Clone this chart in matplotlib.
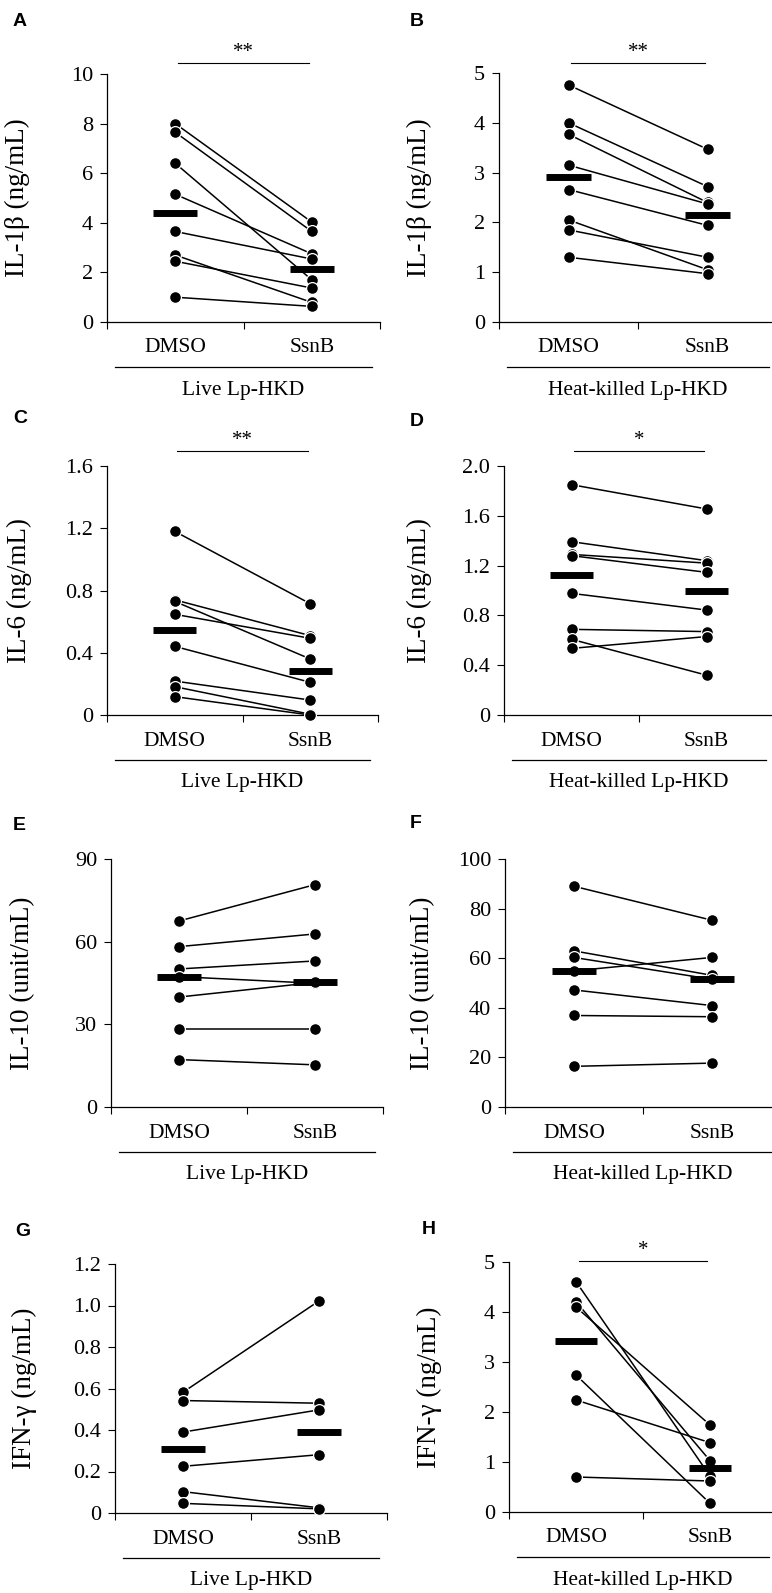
import numpy as np
import matplotlib
matplotlib.use("Agg")
import matplotlib.pyplot as plt

plt.rcParams['font.family'] = ['Liberation Serif', 'DejaVu Serif']

groups = ["DMSO", "SsnB"]

# values, paired by donor
a_dmso = [8.0, 7.65, 6.4, 5.15, 3.65, 2.7, 2.45, 1.0]
a_ssnb = [4.03, 3.65, 1.70, 2.75, 2.54, 0.79, 1.37, 0.63]
b_dmso = [4.76, 4.0, 3.77, 3.15, 2.66, 2.05, 1.85, 1.30]
b_ssnb = [3.47, 2.72, 2.40, 2.37, 1.94, 1.05, 1.30, 0.97]
c_dmso = [1.18, 0.74, 0.73, 0.647, 0.441, 0.218, 0.182, 0.118]
c_ssnb = [0.715, 0.51, 0.36, 0.493, 0.21, 0.096, 0.005, 0.0]
d_dmso = [1.85, 1.392, 1.29, 1.28, 0.977, 0.688, 0.608, 0.535]
d_ssnb = [1.655, 1.24, 1.22, 1.146, 0.843, 0.67, 0.32, 0.63]
e_dmso = [67.5, 58.2, 50.1, 47.3, 39.9, 28.2, 17.2]
e_ssnb = [80.7, 62.8, 53.0, 44.9, 45.2, 28.2, 15.3]
f_dmso = [89.0, 62.95, 60.3, 54.9, 47.2, 36.9, 16.4]
f_ssnb = [75.3, 53.1, 51.5, 60.3, 40.9, 36.4, 17.7]
g_dmso = [0.582, 0.542, 0.39, 0.225, 0.103, 0.0465]
g_ssnb = [1.022, 0.529, 0.497, 0.281, 0.025, 0.020]
h_dmso = [4.607, 4.207, 4.1, 2.74, 2.24, 0.70]
h_ssnb = [0.72, 1.027, 1.74, 0.173, 1.387, 0.62]

W, H = 772, 1593
fig = plt.figure(figsize=(W / 100, H / 100), dpi=100)

live = "Live Lp-HKD"
heat = "Heat-killed Lp-HKD"

# letter, dmso, ssnb, ylabel, yticks, ticklabels, group, star, sig offset px,
# axes box in px (left, top, bottom, width), ylabel offset px, letter pos
panels = [
    ("A", a_dmso, a_ssnb, "IL-1β (ng/mL)", [0, 2, 4, 6, 8, 10], None, live, "**", 11,
     (107, 74, 322, 273), 77, (13, 22)),
    ("B", b_dmso, b_ssnb, "IL-1β (ng/mL)", [0, 1, 2, 3, 4, 5], None, heat, "**", 10,
     (499, 73, 322, 278), 67, (410, 22)),
    ("C", c_dmso, c_ssnb, "IL-6 (ng/mL)", [0, 0.4, 0.8, 1.2, 1.6],
     ["0", "0.4", "0.8", "1.2", "1.6"], live, "**", 15,
     (107, 466, 715, 271), 75, (13, 418)),
    ("D", d_dmso, d_ssnb, "IL-6 (ng/mL)", [0, 0.4, 0.8, 1.2, 1.6, 2.0],
     ["0", "0.4", "0.8", "1.2", "1.6", "2.0"], heat, "*", 15,
     (504, 466, 715, 270), 72, (410, 422)),
    ("E", e_dmso, e_ssnb, "IL-10 (unit/mL)", [0, 30, 60, 90], None, live, None, 0,
     (111, 859, 1107, 272), 76, (13, 826)),
    ("F", f_dmso, f_ssnb, "IL-10 (unit/mL)", [0, 20, 40, 60, 80, 100], None, heat, None, 0,
     (505, 859, 1107, 276), 70, (410, 824)),
    ("G", g_dmso, g_ssnb, "IFN-γ (ng/mL)", [0, 0.2, 0.4, 0.6, 0.8, 1.0, 1.2],
     ["0", "0.2", "0.4", "0.6", "0.8", "1.0", "1.2"], live, None, 0,
     (115, 1264, 1513, 272), 78, (15, 1231)),
    ("H", h_dmso, h_ssnb, "IFN-γ (ng/mL)", [0, 1, 2, 3, 4, 5], None, heat, "*", 1,
     (509, 1262, 1512, 268), 67, (422, 1230)),
]

for (letter, dmso, ssnb, ylab, yt, ytl, grp, star, sigoff,
     box, yoff, lpos) in panels:
    left, top, bottom, width = box
    hpx = bottom - top
    ax = fig.add_axes([left / W, 1 - bottom / H, width / W, hpx / H])

    for d, s in zip(dmso, ssnb):
        ax.plot([0.5, 1.5], [d, s], color="black", lw=1.1, zorder=2, clip_on=False)
    ax.plot([0.5] * len(dmso), dmso, "o", ms=8.5, mfc="black", mec="white",
            mew=0.9, zorder=3, clip_on=False)
    ax.plot([1.5] * len(ssnb), ssnb, "o", ms=8.5, mfc="black", mec="white",
            mew=0.9, zorder=3, clip_on=False)

    # median bars
    for x, vals in zip([0.5, 1.5], [dmso, ssnb]):
        m = np.median(vals)
        ax.plot([x - 0.16, x + 0.16], [m, m], color="black", lw=5,
                solid_capstyle="butt", zorder=4, clip_on=False)

    ax.set_xlim(0, 2)
    ax.set_ylim(0, yt[-1])
    ax.set_yticks(yt)
    if ytl is None:
        ax.set_yticklabels([str(v) for v in yt])
    else:
        ax.set_yticklabels(ytl)
    ax.set_xticks([0, 1, 2])
    ax.set_xticklabels([])
    ax.tick_params(axis="y", direction="out", length=5, width=0.8,
                   labelsize=16, pad=5)
    ax.tick_params(axis="x", direction="out", length=5, width=0.8)
    for sp in ["top", "right"]:
        ax.spines[sp].set_visible(False)
    for sp in ["left", "bottom"]:
        ax.spines[sp].set_linewidth(0.9)

    ax.set_ylabel(ylab, fontsize=19.5)
    ax.yaxis.set_label_coords(-yoff / width, 0.5)

    tr = ax.get_xaxis_transform()
    for x, g in zip([0.5, 1.5], groups):
        ax.text(x, -26 / hpx, g, transform=tr, ha="center", va="center",
                fontsize=15.5)
    ax.plot([0.03, 0.97], [-45 / hpx, -45 / hpx], transform=ax.transAxes,
            color="black", lw=0.9, clip_on=False)
    ax.text(0.5, -68 / hpx, grp, transform=ax.transAxes, ha="center",
            va="center", fontsize=15.5)

    if star is not None:
        ys = 1 + sigoff / hpx
        ax.plot([0.52, 1.48], [ys, ys], transform=tr, color="black", lw=0.8,
                clip_on=False)
        ax.text(1.0, ys + 1 / hpx, star, transform=tr, ha="center",
                va="bottom", fontsize=15)

    fig.text(lpos[0] / W, 1 - lpos[1] / H, letter, ha="left", va="center",
             fontsize=14, fontweight="bold", family="Liberation Sans")

fig.savefig("out.png", dpi=100)
